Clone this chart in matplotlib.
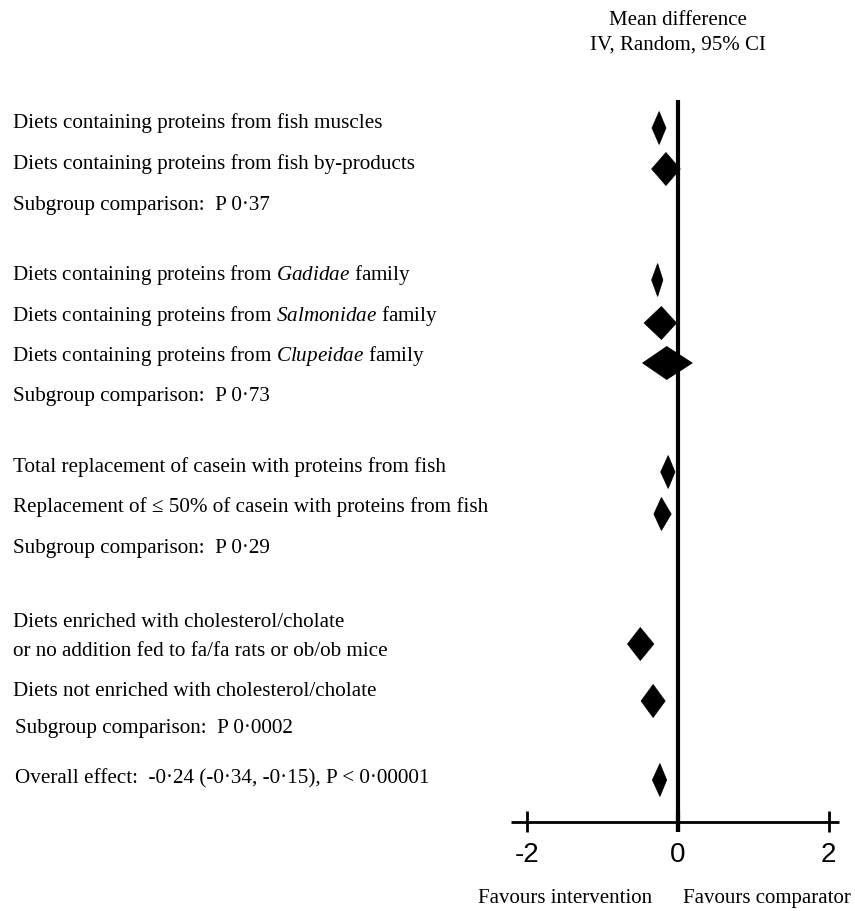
import matplotlib
matplotlib.use("Agg")
import matplotlib.pyplot as plt
from matplotlib.patches import Polygon
from matplotlib.transforms import blended_transform_factory

plt.rcParams['font.family'] = ['Liberation Serif', 'DejaVu Serif']
plt.rcParams['mathtext.fontset'] = 'custom'
plt.rcParams['mathtext.rm'] = 'Liberation Serif'
plt.rcParams['mathtext.it'] = 'Liberation Serif:italic'

# pooled mean differences (IV, random, 95% CI)
means = [-0.25, -0.16, -0.27, -0.22, -0.15, -0.13, -0.22, -0.50, -0.33, -0.24]
lower = [-0.345, -0.35, -0.35, -0.45, -0.47, -0.23, -0.32, -0.67, -0.49, -0.34]
upper = [-0.16, 0.03, -0.20, -0.02, 0.19, -0.04, -0.09, -0.32, -0.17, -0.15]

labels = [
    "Diets containing proteins from fish muscles",
    "Diets containing proteins from fish by-products",
    "Subgroup comparison:  P 0\u00b737",
    "Diets containing proteins from $\\it{Gadidae}$ family",
    "Diets containing proteins from $\\it{Salmonidae}$ family",
    "Diets containing proteins from $\\it{Clupeidae}$ family",
    "Subgroup comparison:  P 0\u00b773",
    "Total replacement of casein with proteins from fish",
    "Replacement of \u2264 50% of casein with proteins from fish",
    "Subgroup comparison:  P 0\u00b729",
    "Diets enriched with cholesterol/cholate",
    "or no addition fed to fa/fa rats or ob/ob mice",
    "Diets not enriched with cholesterol/cholate",
    "Subgroup comparison:  P 0\u00b70002",
    "Overall effect:  -0\u00b724 (-0\u00b734, -0\u00b715), P < 0\u00b700001",
]
xticks = [-2, 0, 2]

# layout (pixels from top)
W, H = 855, 911
zero_px, px_per_unit = 678, 75.4
label_y = [128, 169, 210, 280, 321, 361, 401, 472, 512, 553, 627, 656, 696, 733, 783]
label_x = [13, 13, 13, 12, 12, 12, 13, 13, 13, 13, 13, 13, 13, 15, 15]
diamond_y = [128, 169, 280, 323, 363, 472, 514, 644, 701, 780]
half_h = 16.5
axis_y = 822

fig = plt.figure(figsize=(W / 100, H / 100), dpi=100)
ax = fig.add_axes([0, 0, 1, 1])
ax.set_xlim(-zero_px / px_per_unit, (W - zero_px) / px_per_unit)
ax.set_ylim(H, 0)
ax.axis('off')
mixed = blended_transform_factory(ax.transAxes, ax.transData)

for txt, y, x in zip(labels, label_y, label_x):
    ax.text(x / W, y, txt, transform=mixed, fontsize=15.2, va='baseline', ha='left')

for m, lo, hi, y in zip(means, lower, upper, diamond_y):
    ax.add_patch(Polygon([(lo, y), (m, y - half_h), (hi, y), (m, y + half_h)],
                         closed=True, facecolor='black', edgecolor='black', lw=0.5))

# line of no effect and x axis
ax.plot([0, 0], [100, axis_y + 10], color='black', lw=3, solid_capstyle='butt')
ax.plot([-2.22, 2.14], [axis_y, axis_y], color='black', lw=2, solid_capstyle='butt')
for t in xticks:
    ax.plot([t, t], [axis_y - 11, axis_y + 10], color='black', lw=2 if t else 3,
            solid_capstyle='butt')
    ax.text(t, 862, f"{t}", fontsize=20, family='Liberation Sans', ha='center', va='baseline')

ax.text(0, 25, "Mean difference", fontsize=15, ha='center', va='baseline')
ax.text(0, 50, "IV, Random, 95% CI", fontsize=15, ha='center', va='baseline')
ax.text(-0.34, 903, "Favours intervention", fontsize=15, ha='right', va='baseline')
ax.text(0.066, 903, "Favours comparator", fontsize=15, ha='left', va='baseline')

fig.savefig("out.png", dpi=100)
